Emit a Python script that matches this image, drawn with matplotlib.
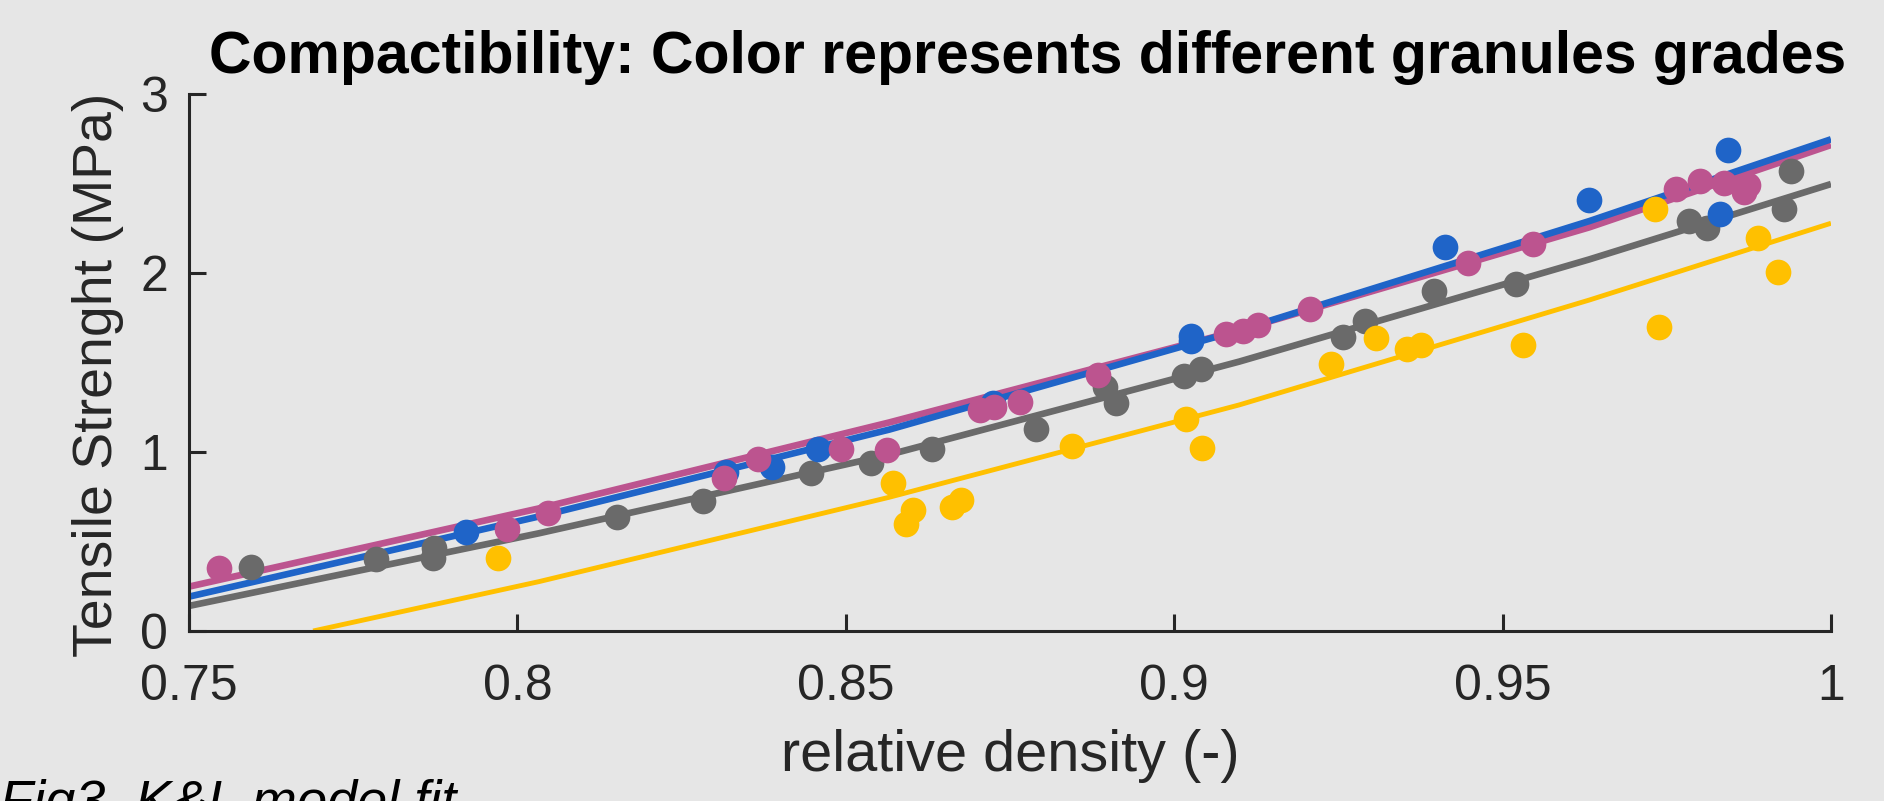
import matplotlib
matplotlib.use("Agg")
import matplotlib.pyplot as plt

# ---------------- data ----------------
gray_x = [0.7595, 0.7784, 0.7873, 0.7871, 0.8151, 0.8283, 0.8447, 0.8538, 0.8631,
          0.8789, 0.8895, 0.8912, 0.9015, 0.9041, 0.9257, 0.9290, 0.9396, 0.9521,
          0.9784, 0.9811, 0.9939, 0.9929]
gray_y = [0.359, 0.402, 0.462, 0.406, 0.639, 0.728, 0.883, 0.937, 1.015,
          1.128, 1.365, 1.272, 1.426, 1.464, 1.641, 1.734, 1.899, 1.940,
          2.291, 2.251, 2.568, 2.359]

yellow_x = [0.7971, 0.8572, 0.8592, 0.8603, 0.8661, 0.8676, 0.8844, 0.9018, 0.9043,
            0.9239, 0.9307, 0.9355, 0.9376, 0.9531, 0.9732, 0.9738, 0.9889, 0.9919]
yellow_y = [0.406, 0.829, 0.600, 0.675, 0.691, 0.732, 1.032, 1.184, 1.024,
            1.492, 1.637, 1.577, 1.598, 1.600, 2.356, 1.697, 2.197, 2.006]

blue_x = [0.7921, 0.8318, 0.8387, 0.8457, 0.8724, 0.9026, 0.9026, 0.9413, 0.9631,
          0.9843, 0.9831]
blue_y = [0.555, 0.890, 0.914, 1.015, 1.272, 1.620, 1.650, 2.143, 2.409,
          2.685, 2.328]

pink_x = [0.7546, 0.7984, 0.8047, 0.8315, 0.8366, 0.8492, 0.8563, 0.8705, 0.8726,
          0.8765, 0.8884, 0.9079, 0.9104, 0.9128, 0.9206, 0.9448, 0.9547, 0.9764,
          0.9800, 0.9837, 0.9873, 0.9867]
pink_y = [0.354, 0.570, 0.657, 0.855, 0.961, 1.015, 1.009, 1.235, 1.250,
          1.278, 1.430, 1.657, 1.676, 1.709, 1.797, 2.054, 2.162, 2.467,
          2.516, 2.505, 2.492, 2.454]

# fitted model curves
fit_x = [0.75, 0.8033, 0.8566, 0.9099, 0.9632, 1.0]
blue_fit = [0.192, 0.640, 1.125, 1.680, 2.290, 2.747]
pink_fit = [0.248, 0.685, 1.165, 1.680, 2.255, 2.715]
gray_fit = [0.140, 0.546, 0.985, 1.505, 2.076, 2.497]
yellow_fit_x = [0.7689, 0.8033, 0.8566, 0.9099, 0.9632, 1.0]
yellow_fit = [0.0, 0.276, 0.747, 1.263, 1.849, 2.278]

x_ticks = [0.75, 0.8, 0.85, 0.9, 0.95, 1.0]
x_tick_labels = ["0.75", "0.8", "0.85", "0.9", "0.95", "1"]
y_ticks = [0, 1, 2, 3]

# ---------------- styling ----------------
BG = "#e6e6e6"
C_BLUE = "#1f64c8"
C_PINK = "#bc548f"
C_GRAY = "#6a6a6a"
C_YEL = "#ffc000"
AX_COL = "#262626"

plt.rcParams["font.family"] = ["Liberation Sans", "DejaVu Sans"]

W, H = 1884, 801
fig = plt.figure(figsize=(W / 100, H / 100), dpi=100, facecolor=BG)
ax = fig.add_axes([189 / W, 1 - 631 / H, 1642 / W, 537 / H])
ax.set_facecolor(BG)

ms = 18.5
ax.plot(fit_x, pink_fit, color=C_PINK, lw=4.8, zorder=2, solid_capstyle="butt")
ax.plot(fit_x, blue_fit, color=C_BLUE, lw=4.8, zorder=2.1, solid_capstyle="butt")
ax.plot(fit_x, gray_fit, color=C_GRAY, lw=4.8, zorder=2.2, solid_capstyle="butt")
ax.plot(yellow_fit_x, yellow_fit, color=C_YEL, lw=3.5, zorder=2.3, solid_capstyle="butt")

ax.plot(gray_x, gray_y, "o", color=C_GRAY, ms=ms, mec="none", zorder=3)
ax.plot(yellow_x, yellow_y, "o", color=C_YEL, ms=ms, mec="none", zorder=3.1)
ax.plot(blue_x, blue_y, "o", color=C_BLUE, ms=ms, mec="none", zorder=3.2)
ax.plot(pink_x, pink_y, "o", color=C_PINK, ms=ms, mec="none", zorder=3.3)

ax.set_xlim(0.75, 1.0)
ax.set_ylim(0, 3)
ax.set_xticks(x_ticks)
ax.set_xticklabels(x_tick_labels)
ax.set_yticks(y_ticks)

for s in ["top", "right"]:
    ax.spines[s].set_visible(False)
for s in ["left", "bottom"]:
    ax.spines[s].set_color(AX_COL)
    ax.spines[s].set_linewidth(2.2)

ax.tick_params(direction="in", length=12.5, width=2.2, colors=AX_COL,
               labelsize=36)
ax.tick_params(axis="x", pad=24)
ax.tick_params(axis="y", pad=15)

ax.set_xlabel("relative density (-)", fontsize=41.5, color=AX_COL)
ax.xaxis.set_label_coords(0.5, (631 - 729) / 537)
ax.set_ylabel("Tensile Strenght (MPa)", fontsize=40, color=AX_COL)
ax.yaxis.set_label_coords((124 - 189) / 1642, (631 - 375) / 537)

ax.set_title("Compactibility: Color represents different granules grades",
             fontsize=42.5, fontweight="bold", color="black",
             x=(1028 - 189) / 1642, y=(631 - 73) / 537, pad=0, va="baseline")

fig.text(0.0, -0.021, "Fig3. K&L model fit", fontsize=39, style="italic",
         color="black", ha="left", va="baseline")

fig.savefig("out.png", dpi=100, facecolor=BG)
